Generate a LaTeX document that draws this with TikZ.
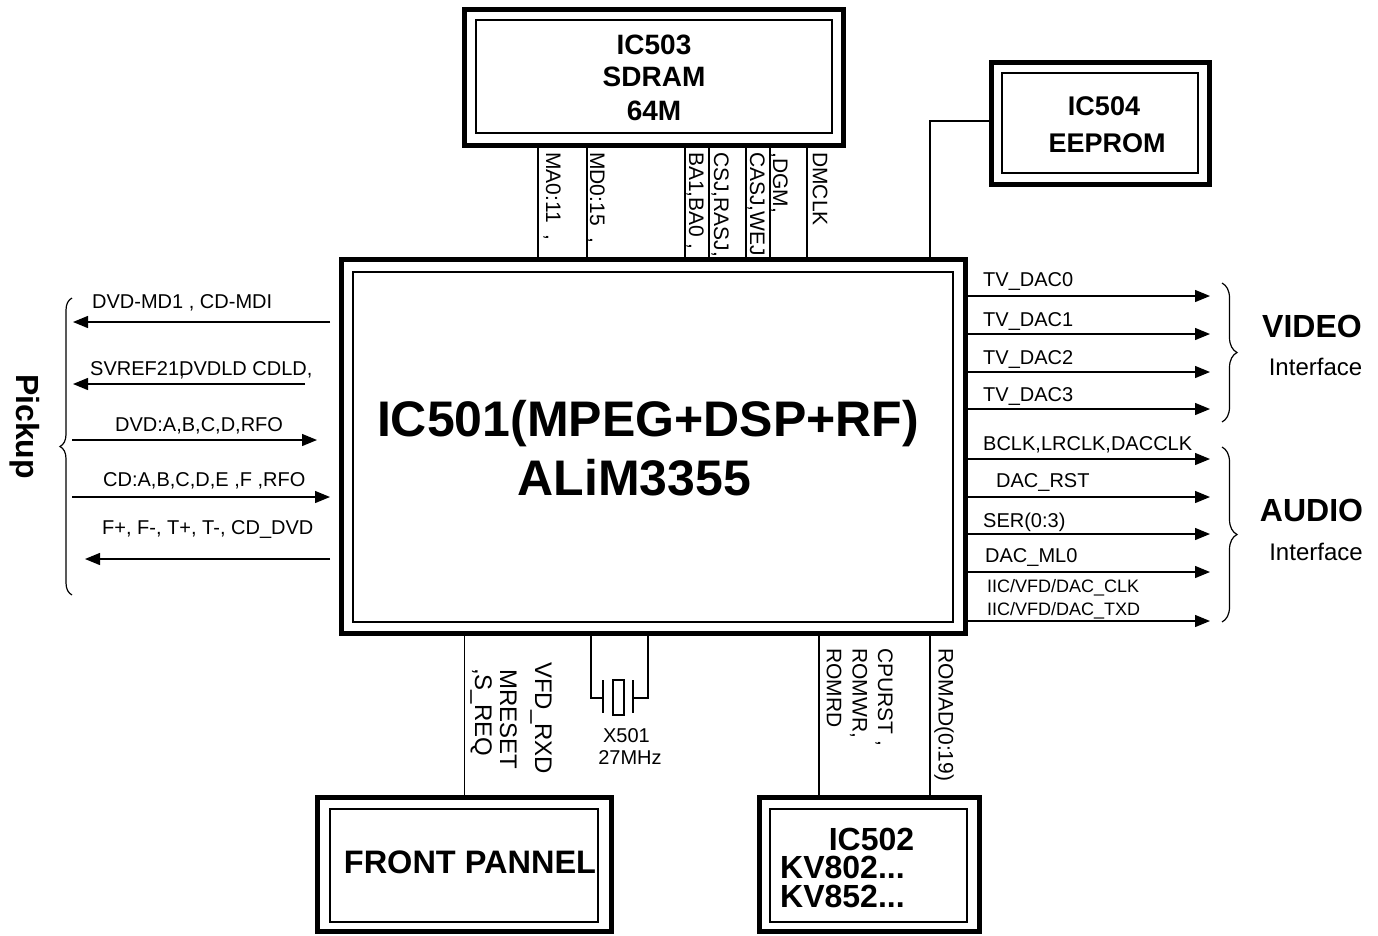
\documentclass[tikz,border=0pt]{standalone}
\usepackage{fontspec}
\setmainfont{Liberation Sans}
\usetikzlibrary{arrows.meta,decorations.pathreplacing}

\newcommand{\fs}[1]{\fontsize{#1}{#1}\selectfont}

\begin{document}
\begin{tikzpicture}[x=1pt,y=-1pt,
	outerbox/.style={draw,line width=5pt,inner sep=0pt},
	innerbox/.style={draw,line width=1.2pt,inner sep=0pt},
	wire/.style={line width=1.3pt},
	sig/.style={line width=1.3pt,-{Triangle[length=15pt,width=12pt]}},
	lbl/.style={inner sep=0pt,anchor=base west,font=\fs{20}},
	vlbl/.style={inner sep=0pt,anchor=west,rotate=-90,font=\fs{21}},
	chipname/.style={inner sep=0pt,anchor=base,font=\bfseries\fs{#1}},
	curly/.style={line width=1.2pt,decorate,decoration={brace,amplitude=#1}}]
	
	\useasboundingbox (0,0) rectangle (1378,935);
	
	% chips
	\node[outerbox,minimum width=379pt,minimum height=136pt] (sdram) at (654,77.5) {};
	\node[innerbox,minimum width=356pt,minimum height=113pt] (sdramin) at (654,76.5) {};
	\node[outerbox,minimum width=218pt,minimum height=122pt] (eeprom) at (1100.75,123.5) {};
	\node[innerbox,minimum width=196pt,minimum height=100pt] (eepromin) at (1100,123) {};
	\node[outerbox,minimum width=624pt,minimum height=374pt] (main) at (653.5,446.5) {};
	\node[innerbox,minimum width=600pt,minimum height=350pt] (mainin) at (653,447) {};
	\node[outerbox,minimum width=293.5pt,minimum height=134pt] (fpanel) at (464.25,864.5) {};
	\node[innerbox,minimum width=268pt,minimum height=113pt] (fpanelin) at (464,865.5) {};
	\node[outerbox,minimum width=220pt,minimum height=134pt] (rom) at (869,864.5) {};
	\node[innerbox,minimum width=197pt,minimum height=113pt] (romin) at (868.5,865.5) {};
	
	\node[chipname=28] (t503) at (654,54) {IC503};
	\node[chipname=28] (tsdram) at (654,86) {SDRAM};
	\node[chipname=28] (t64m) at (654,120) {64M};
	\node[chipname=27] (t504) at (1104,115) {IC504};
	\node[chipname=27] (teeprom) at (1107,152) {EEPROM};
	\node[chipname=50] (t501) at (648,436) {IC501(MPEG+DSP+RF)};
	\node[chipname=50] (tali) at (634.5,495) {ALiM3355};
	\node[chipname=32.5] (tfront) at (470,873) {FRONT PANNEL};
	\node[chipname=32] (t502) at (871.5,850) {IC502};
	\node[chipname=32,anchor=north west,align=left,font=\bfseries\fontsize{32}{28.5}\selectfont] (tkv) at (780,856) {KV802...\\KV852...};
	
	% SDRAM bus
	\foreach \x in {538,587,685,709,746,770,807}
		\draw[wire] (sdram.south -| \x,0) -- (main.north -| \x,0);
	\node[vlbl] (lma) at (552,152) {MA0:11\ \ ,};
	\node[vlbl] (lmd) at (596,152) {MD0:15\ \ ,};
	\node[vlbl] (lba) at (695,152) {BA1,BA0 ,};
	\node[vlbl] (lcs) at (720,152) {CSJ,RASJ,};
	\node[vlbl] (lcas) at (756,152) {CASJ,WEJ};
	\node[vlbl] (ldgm) at (779,152) {,DGM,};
	\node[vlbl] (ldmclk) at (820,152) {DMCLK};
	
	% EEPROM
	\draw[wire] (eeprom.west |- 0,121) -| (main.north -| 930,0);
	
	% pickup
	\coordinate (pk1a) at (330,322); \coordinate (pk1b) at (73,322);
	\coordinate (pk2a) at (305,384); \coordinate (pk2b) at (73,384);
	\coordinate (pk3a) at (72,440);  \coordinate (pk3b) at (317,440);
	\coordinate (pk4a) at (72,497);  \coordinate (pk4b) at (330,497);
	\coordinate (pk5a) at (330,559); \coordinate (pk5b) at (85,559);
	\foreach \i in {1,...,5}
		\draw[sig] (pk\i a) -- (pk\i b);
	\node[lbl] (lpk1) at (92,308) {DVD-MD1 , CD-MDI};
	\node[lbl] (lpk2) at (90,375) {SVREF21\rlap{\raisebox{-1pt}{,}}DVDLD CDLD,};
	\node[lbl] (lpk3) at (115,431) {DVD:A,B,C,D,RFO};
	\node[lbl] (lpk4) at (103,486) {CD:A,B,C,D,E ,F ,RFO};
	\node[lbl] (lpk5) at (102,534) {F+, F-, T+, T-, CD\_DVD};
	\draw[curly=12pt] (72,595) -- (72,298);
	\node[chipname=32,anchor=center,rotate=-90] (tpickup) at (25,426.5) {Pickup};
	
	% video / audio outputs
	\foreach \y [count=\i] in {296,334,372,409,459,497,534,572,621} {
		\coordinate (out\i) at (1210,\y);
		\draw[sig] (main.east |- out\i) -- (out\i);
	}
	\node[lbl] (lout1) at (983,286.5) {TV\_DAC0};
	\node[lbl] (lout2) at (983,326) {TV\_DAC1};
	\node[lbl] (lout3) at (983,364) {TV\_DAC2};
	\node[lbl] (lout4) at (983,401) {TV\_DAC3};
	\node[lbl] (lout5) at (983,450) {BCLK,LRCLK,DACCLK};
	\node[lbl] (lout6) at (996,487.5) {DAC\_RST};
	\node[lbl] (lout7) at (983,527) {SER(0:3)};
	\node[lbl] (lout8) at (985,562.5) {DAC\_ML0};
	\node[lbl,font=\fs{18}] (lout9) at (987,592) {IIC/VFD/DAC\_CLK};
	\node[lbl,font=\fs{18}] (lout10) at (987,615) {IIC/VFD/DAC\_TXD};
	\draw[curly=15pt] (1222,283) -- (1222,422);
	\draw[curly=15pt] (1222,447) -- (1222,622);
	\node[chipname=32] (tvideo) at (1312,337.5) {VIDEO};
	\node[chipname=24,font=\fs{24}] (tvif) at (1315.5,375.5) {Interface};
	\node[chipname=32] (taudio) at (1311.5,521.5) {AUDIO};
	\node[chipname=24,font=\fs{24}] (taif) at (1316,560.5) {Interface};
	
	% front panel
	\draw[wire] (main.south -| fpanel.north) -- (fpanel.north);
	\node[vlbl,font=\fs{24}] (lvfd) at (541,662) {VFD\_RXD};
	\node[vlbl,font=\fs{24}] (lmres) at (508.5,669) {MRESET};
	\node[vlbl,font=\fs{24}] (lsreq) at (481,668) {,S\_REQ};
	
	% crystal
	\coordinate (xl) at (591,698);
	\coordinate (xr) at (648,698);
	\draw[wire] (main.south -| xl) -- (xl) -- (603,698);
	\draw[wire] (main.south -| xr) -- (xr) -- (633,698);
	\draw[wire] (603,680) -- (603,713);
	\draw[wire] (633,680) -- (633,713);
	\node[draw,line width=1.3pt,minimum width=11pt,minimum height=35pt,inner sep=0pt] (xtal) at (618.5,697.5) {};
	\node[chipname=20,font=\fs{20}] (txtal) at (626.5,742) {X501};
	\node[chipname=20,font=\fs{20}] (tfreq) at (630,764) {27MHz};
	
	% ROM
	\foreach \x in {819,930}
		\draw[wire] (main.south -| \x,0) -- (rom.north -| \x,0);
	\node[vlbl] (lromrd) at (834,648) {ROMRD};
	\node[vlbl] (lromwr) at (858.5,648) {ROMWR,};
	\node[vlbl] (lcpurst) at (884,648) {CPURST ,};
	\node[vlbl] (lromad) at (944,648) {ROMAD(0:19)};
	
\end{tikzpicture}
\end{document}
